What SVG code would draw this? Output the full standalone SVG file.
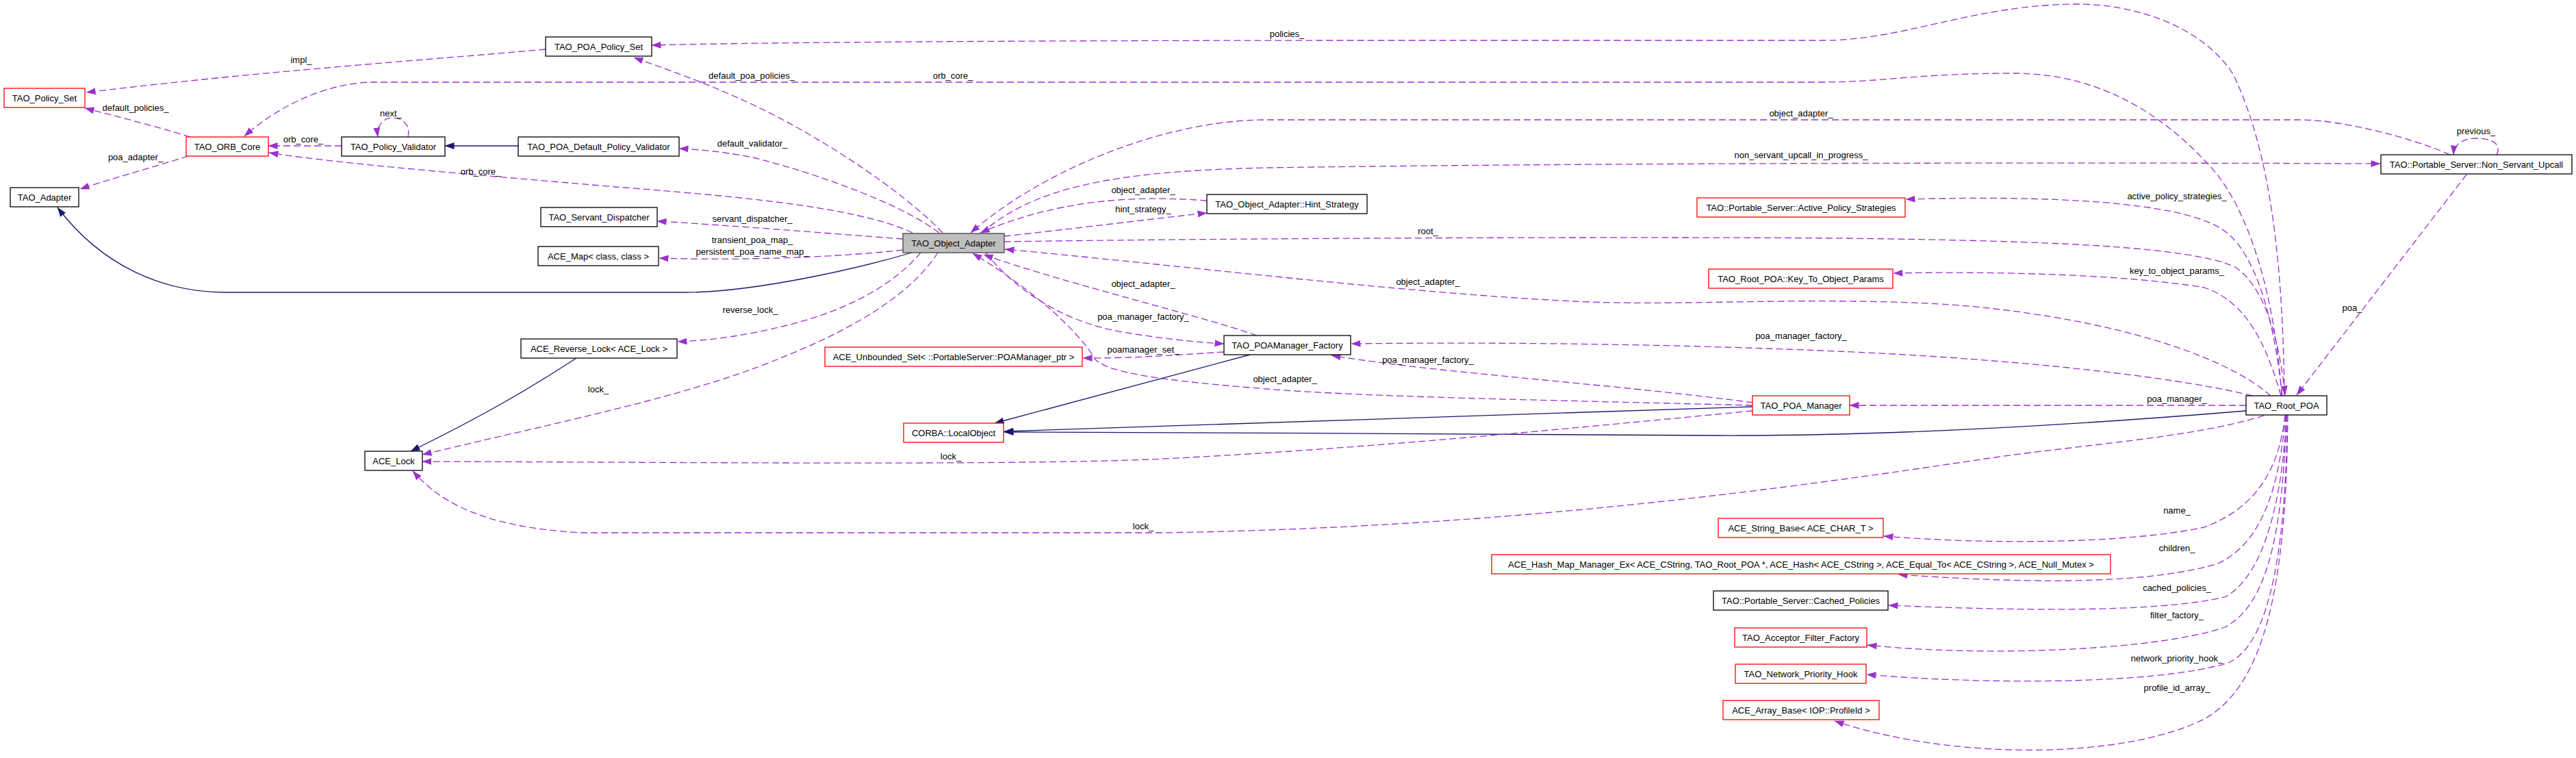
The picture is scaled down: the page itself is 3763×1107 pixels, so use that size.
<svg xmlns="http://www.w3.org/2000/svg" width="3763" height="1107" viewBox="0 0 3763 1107">
<defs>
<style>
.n rect{fill:#fff;stroke:#000;stroke-width:1.3}
.n.r rect{stroke:#ff0000}
.n.g rect{fill:#bfbfbf;stroke:#404040}
text{font-family:"Liberation Sans",Arial,sans-serif;font-size:13px;fill:#000}
.n text{text-anchor:middle}
.e path{fill:none;stroke:#9a32cd;stroke-width:1.3;stroke-dasharray:10,5;marker-end:url(#ap)}
.e path.i{stroke:#191970;stroke-dasharray:none;marker-end:url(#ai)}
.l text{text-anchor:middle}
</style>
<marker id="ap" markerUnits="userSpaceOnUse" markerWidth="14" markerHeight="10" refX="13.5" refY="5" orient="auto" viewBox="0 0 14 10"><path d="M0,0 L14,5 L0,10 z" fill="#9a32cd"/></marker>
<marker id="ai" markerUnits="userSpaceOnUse" markerWidth="14" markerHeight="10" refX="13.5" refY="5" orient="auto" viewBox="0 0 14 10"><path d="M0,0 L14,5 L0,10 z" fill="#191970"/></marker>
</defs>
<rect width="3763" height="1107" fill="#fff"/>
<g id="edges" class="e">
<path d="M797,72 C620,88 380,104 126,135"/>
<path d="M278,200 C230,185 170,170 124,158"/>
<path d="M275,228 C220,245 160,262 117,276"/>
<path d="M499,213 L392,213"/>
<path d="M596,200 C600,185 590,172 574,172 C558,172 550,185 552,200"/>
<path class="i" d="M757,213 L650,213"/>
<path d="M1333,340 C1250,300 1050,285 900,273 C750,260 500,240 393,223"/>
<path d="M3333,578 C3325,450 3290,300 3219,233 C3150,160 3060,108 2944,107 C2800,107 2750,120 2663,120 L542,120 C470,122 400,160 357,199"/>
<path d="M3337,578 C3335,400 3320,230 3263,110 C3220,40 3120,5 3030,6 C2880,8 2780,59 2663,59 L2000,59 C1500,59 1100,62 952,66"/>
<path d="M1377,340 C1320,280 1200,200 1100,153 C1030,120 970,100 926,84"/>
<path d="M1372,340 C1320,300 1200,255 1100,230 C1060,222 1020,218 992,217"/>
<path d="M1319,349 C1200,340 1050,328 960,323"/>
<path d="M1319,365 C1200,378 1060,380 963,377"/>
<path class="i" d="M1332,369 C1250,393 1100,427 1000,427 L330,427 C240,427 150,390 84,303"/>
<path d="M3579,226 C3520,200 3420,175 3360,175 L1850,175 C1700,175 1520,250 1418,340"/>
<path d="M1434,340 C1510,275 1620,250 1850,245 C2300,238 3000,237 3477,239"/>
<path d="M1763,293 C1680,287 1560,285 1432,340"/>
<path d="M1467,345 C1560,335 1680,320 1763,311"/>
<path d="M1467,353 C1700,349 2300,345 2700,348 C3000,352 3200,360 3265,390 C3310,420 3330,500 3338,577"/>
<path d="M3317,578 C3240,510 3050,460 2850,445 C2650,432 2450,448 2300,440 C2050,428 1700,385 1468,364"/>
<path d="M3290,578 C3200,555 3000,530 2765,517 C2600,508 2300,498 1974,502"/>
<path d="M2561,588 C2350,560 2100,545 1945,519"/>
<path d="M2560,592 C2250,584 2000,580 1850,568 C1700,556 1620,545 1600,525 C1580,490 1520,430 1421,370"/>
<path d="M1836,490 C1750,460 1560,415 1437,372"/>
<path d="M1440,369 C1480,420 1550,470 1640,485 C1700,495 1750,500 1788,502"/>
<path d="M1788,514 C1700,520 1650,523 1582,523"/>
<path class="i" d="M1826,518 L1453,618"/>
<path class="i" d="M2560,594 L1467,630"/>
<path class="i" d="M3281,600 C3100,615 2800,637 2510,636 C2200,635 1800,631 1467,631"/>
<path d="M3281,592 L2702,592"/>
<path d="M2560,600 C2300,625 2000,655 1700,670 C1500,680 1000,675 617,674"/>
<path d="M3307,607 C3200,640 3050,648 2900,670 C2600,715 2200,770 1700,778 L850,778 C700,770 640,730 603,688"/>
<path d="M1370,369 C1330,430 1250,480 1130,527 C1000,580 800,620 617,664"/>
<path d="M1345,369 C1310,410 1250,450 1150,475 C1090,490 1040,497 990,499"/>
<path class="i" d="M842,523 C770,570 700,610 600,659"/>
<path d="M3334,578 C3320,450 3290,360 3243,333 C3180,295 3000,285 2784,291"/>
<path d="M3332,578 C3310,500 3280,440 3220,420 C3100,400 2900,396 2766,399"/>
<path d="M3603,255 L3355,577"/>
<path d="M3647,226 C3655,210 3640,202 3618,202 C3598,202 3585,210 3584,226"/>
<path d="M3338,606 C3330,680 3300,740 3220,770 C3100,795 2900,795 2752,783"/>
<path d="M3339,606 C3330,700 3310,790 3240,823 C3150,850 3000,855 2773,839"/>
<path d="M3340,606 C3335,720 3310,840 3250,872 C3150,895 2950,892 2759,884"/>
<path d="M3340,606 C3335,750 3320,880 3250,916 C3150,950 2900,960 2728,942"/>
<path d="M3341,606 C3340,780 3320,940 3255,968 C3150,1000 2900,1000 2727,985"/>
<path d="M3342,606 C3340,850 3310,1000 3220,1050 C3100,1110 2850,1110 2680,1053"/>
</g>
<g id="labels" class="l">
<text x="440" y="92">impl_</text>
<text x="198" y="162">default_policies_</text>
<text x="198" y="234">poa_adapter_</text>
<text x="443" y="208">orb_core_</text>
<text x="571" y="170">next_</text>
<text x="702" y="255">orb_core_</text>
<text x="1098" y="115">default_poa_policies_</text>
<text x="1392" y="115">orb_core_</text>
<text x="1880" y="54">policies_</text>
<text x="1099" y="214">default_validator_</text>
<text x="1099" y="324">servant_dispatcher_</text>
<text x="1099" y="355">transient_poa_map_</text>
<text x="1099" y="372">persistent_poa_name_map_</text>
<text x="1670" y="282">object_adapter_</text>
<text x="1670" y="310">hint_strategy_</text>
<text x="1096" y="457">reverse_lock_</text>
<text x="874" y="573">lock_</text>
<text x="1670" y="419">object_adapter_</text>
<text x="1670" y="467">poa_manager_factory_</text>
<text x="1670" y="515">poamanager_set_</text>
<text x="1877" y="558">object_adapter_</text>
<text x="1389" y="671">lock_</text>
<text x="1670" y="773">lock_</text>
<text x="2631" y="170">object_adapter_</text>
<text x="2631" y="231">non_servant_upcall_in_progress_</text>
<text x="2086" y="342">root_</text>
<text x="2086" y="416">object_adapter_</text>
<text x="2631" y="495">poa_manager_factory_</text>
<text x="2086" y="530">poa_manager_factory_</text>
<text x="3617" y="196">previous_</text>
<text x="3180" y="291">active_policy_strategies_</text>
<text x="3180" y="400">key_to_object_params_</text>
<text x="3436" y="454">poa_</text>
<text x="3180" y="587">poa_manager_</text>
<text x="3180" y="750">name_</text>
<text x="3180" y="805">children_</text>
<text x="3180" y="863">cached_policies_</text>
<text x="3180" y="903">filter_factory_</text>
<text x="3180" y="966">network_priority_hook_</text>
<text x="3180" y="1009">profile_id_array_</text>
</g>
<g id="n1" class="n g"><rect x="1319" y="341" width="148" height="28"/><text x="1393" y="359.5">TAO_Object_Adapter</text></g>
<g id="n2" class="n"><rect x="797" y="54" width="155" height="28"/><text x="874.5" y="72.5">TAO_POA_Policy_Set</text></g>
<g id="n3" class="n r"><rect x="6" y="129" width="118" height="28"/><text x="65" y="147.5">TAO_Policy_Set</text></g>
<g id="n4" class="n r"><rect x="272" y="200" width="120" height="28"/><text x="332" y="218.5">TAO_ORB_Core</text></g>
<g id="n5" class="n"><rect x="499" y="200" width="151" height="28"/><text x="574.5" y="218.5">TAO_Policy_Validator</text></g>
<g id="n6" class="n"><rect x="757" y="200" width="235" height="28"/><text x="874.5" y="218.5">TAO_POA_Default_Policy_Validator</text></g>
<g id="n7" class="n"><rect x="15" y="274" width="100" height="28"/><text x="65" y="292.5">TAO_Adapter</text></g>
<g id="n8" class="n"><rect x="790" y="303" width="170" height="28"/><text x="875" y="321.5">TAO_Servant_Dispatcher</text></g>
<g id="n9" class="n"><rect x="786" y="360" width="176" height="28"/><text x="874" y="378.5">ACE_Map&lt; class, class &gt;</text></g>
<g id="n10" class="n"><rect x="761" y="495" width="228" height="28"/><text x="875" y="513.5">ACE_Reverse_Lock&lt; ACE_Lock &gt;</text></g>
<g id="n11" class="n"><rect x="533" y="659" width="84" height="28"/><text x="575" y="677.5">ACE_Lock</text></g>
<g id="n12" class="n"><rect x="1763" y="284" width="234" height="28"/><text x="1880" y="302.5">TAO_Object_Adapter::Hint_Strategy</text></g>
<g id="n13" class="n r"><rect x="1205" y="507" width="376" height="28"/><text x="1393" y="525.5">ACE_Unbounded_Set&lt; ::PortableServer::POAManager_ptr &gt;</text></g>
<g id="n14" class="n"><rect x="1788" y="490" width="185" height="28"/><text x="1880.5" y="508.5">TAO_POAManager_Factory</text></g>
<g id="n15" class="n r"><rect x="1320" y="618" width="146" height="28"/><text x="1393" y="636.5">CORBA::LocalObject</text></g>
<g id="n16" class="n r"><rect x="2560" y="578" width="142" height="28"/><text x="2631" y="596.5">TAO_POA_Manager</text></g>
<g id="n17" class="n"><rect x="3281" y="578" width="118" height="28"/><text x="3340" y="596.5">TAO_Root_POA</text></g>
<g id="n18" class="n"><rect x="3478" y="226" width="279" height="28"/><text x="3617.5" y="244.5">TAO::Portable_Server::Non_Servant_Upcall</text></g>
<g id="n19" class="n r"><rect x="2479" y="289" width="304" height="28"/><text x="2631" y="307.5">TAO::Portable_Server::Active_Policy_Strategies</text></g>
<g id="n20" class="n r"><rect x="2496" y="393" width="269" height="28"/><text x="2630.5" y="411.5">TAO_Root_POA::Key_To_Object_Params</text></g>
<g id="n21" class="n r"><rect x="2510" y="757" width="241" height="28"/><text x="2630.5" y="775.5">ACE_String_Base&lt; ACE_CHAR_T &gt;</text></g>
<g id="n22" class="n r"><rect x="2179" y="810" width="904" height="28"/><text x="2631" y="828.5">ACE_Hash_Map_Manager_Ex&lt; ACE_CString, TAO_Root_POA *, ACE_Hash&lt; ACE_CString &gt;, ACE_Equal_To&lt; ACE_CString &gt;, ACE_Null_Mutex &gt;</text></g>
<g id="n23" class="n"><rect x="2503" y="863" width="255" height="28"/><text x="2630.5" y="881.5">TAO::Portable_Server::Cached_Policies</text></g>
<g id="n24" class="n r"><rect x="2534" y="917" width="193" height="28"/><text x="2630.5" y="935.5">TAO_Acceptor_Filter_Factory</text></g>
<g id="n25" class="n r"><rect x="2535" y="970" width="191" height="28"/><text x="2630.5" y="988.5">TAO_Network_Priority_Hook</text></g>
<g id="n26" class="n r"><rect x="2517" y="1023" width="228" height="28"/><text x="2631" y="1041.5">ACE_Array_Base&lt; IOP::ProfileId &gt;</text></g>
</svg>
